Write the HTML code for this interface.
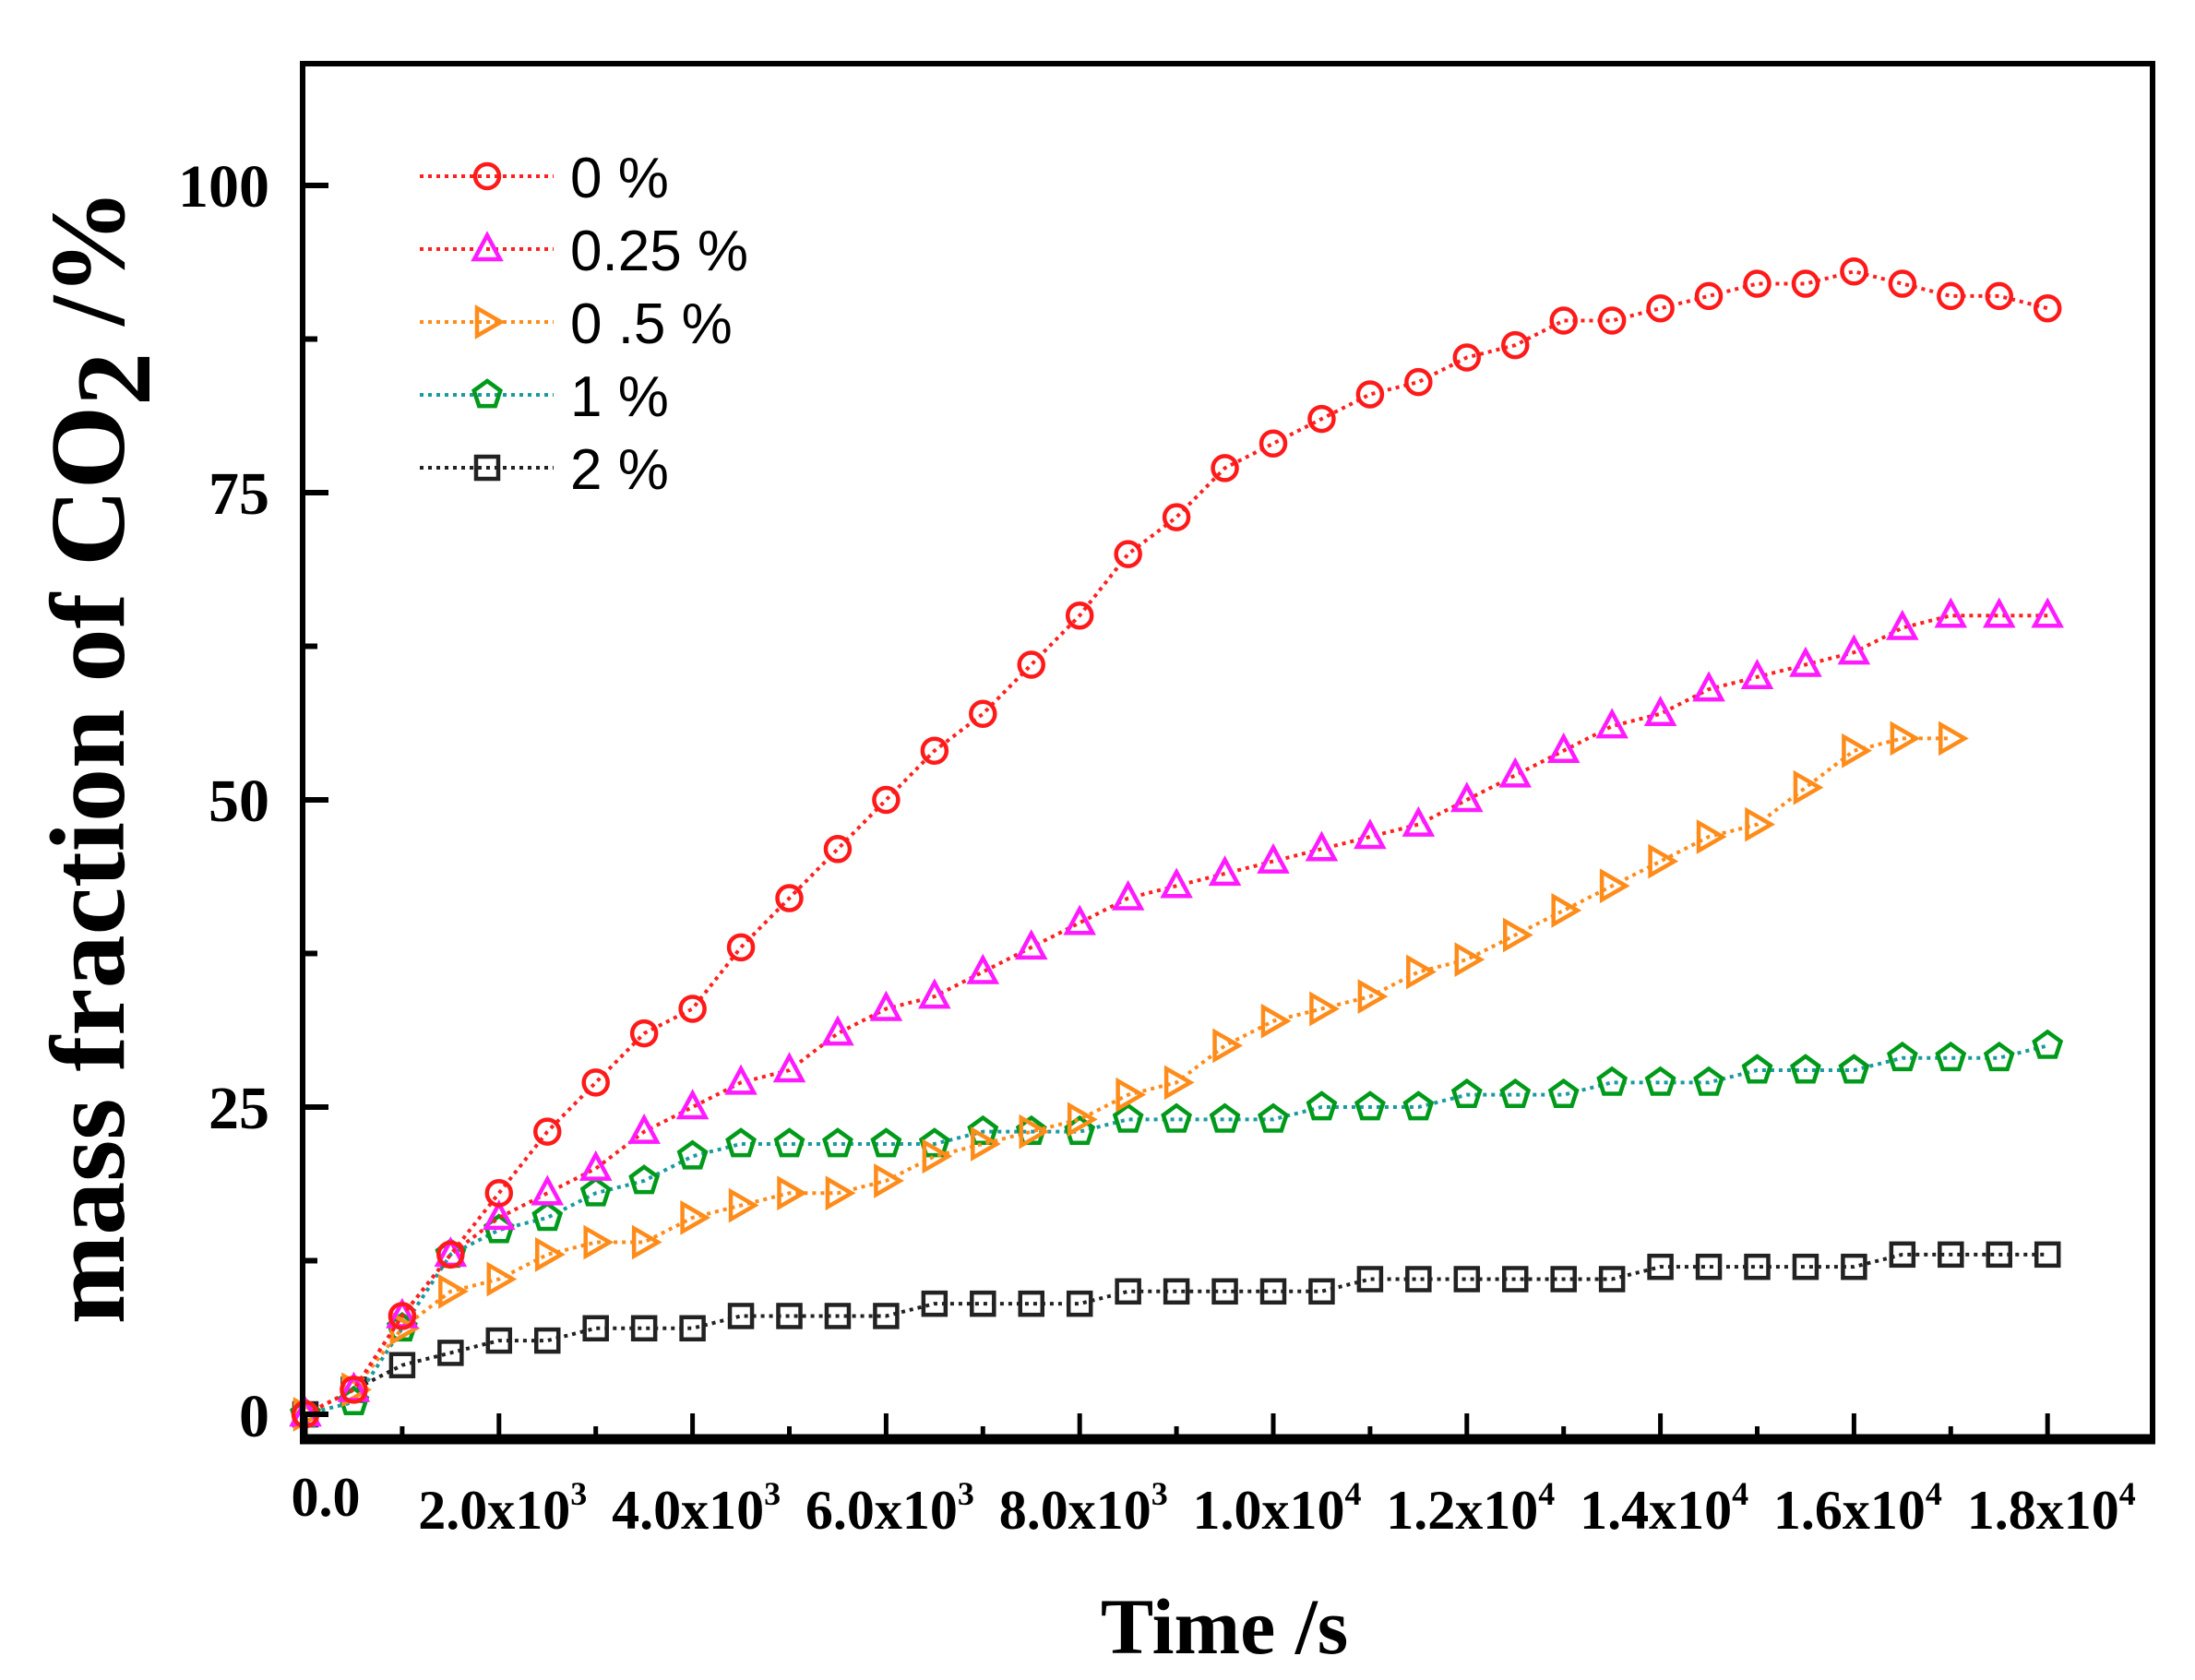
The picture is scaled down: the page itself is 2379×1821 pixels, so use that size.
<!DOCTYPE html>
<html><head><meta charset="utf-8"><style>html,body{margin:0;padding:0;background:#fff}svg{display:block}</style></head>
<body>
<svg id="s" xmlns="http://www.w3.org/2000/svg" width="2379" height="1821" viewBox="0 0 2379 1821">
<rect width="2379" height="1821" fill="#fff"/>
<g id="plot"></g>
<rect x="328" y="69" width="2005" height="1491" fill="none" stroke="#000" stroke-width="6"/>
<line x1="325" y1="1560" x2="2336" y2="1560" stroke="#000" stroke-width="11"/>
<g id="ticks" stroke="#000"></g>
<g font-family="'Liberation Serif',serif" font-weight="bold" font-size="66" text-anchor="end" fill="#000">
<text x="292" y="224">100</text>
<text x="292" y="557">75</text>
<text x="292" y="890">50</text>
<text x="292" y="1223">25</text>
<text x="292" y="1557">0</text>
</g>
<g id="xl" font-family="'Liberation Serif',serif" font-weight="bold" font-size="60" text-anchor="middle" fill="#000"></g>
<text x="1327" y="1792" font-family="'Liberation Serif',serif" font-weight="bold" font-size="86" text-anchor="middle">Time /s</text>
<text transform="translate(134,820) rotate(-90)" font-family="'Liberation Serif',serif" font-weight="bold" font-size="116" text-anchor="middle">mass fraction of CO<tspan dy="28">2</tspan><tspan dy="-28"> /%</tspan></text>
<g id="leg" font-family="'Liberation Sans',sans-serif" font-size="62" fill="#000"></g>
</svg>
<script>
const NS="http://www.w3.org/2000/svg";
const X=t=>331+t*0.1049, Y=v=>1533-v*13.32;
function el(p,tag,a){const e=document.createElementNS(NS,tag);for(const k in a)e.setAttribute(k,a[k]);p.appendChild(e);return e;}
const tk=document.getElementById('ticks');
for(let v=0;v<=100;v+=12.5){const maj=v%25===0;el(tk,'line',{x1:328,y1:Y(v),x2:328+(maj?28:16),y2:Y(v),'stroke-width':6});}
for(let t=0;t<=18000;t+=1000){const maj=t%2000===0;el(tk,'line',{x1:X(t),y1:1560,x2:X(t),y2:1560-(maj?28:14),'stroke-width':5});}
const xl=document.getElementById('xl');
const lab=[["0.0",""],["2.0x10","3"],["4.0x10","3"],["6.0x10","3"],["8.0x10","3"],["1.0x10","4"],["1.2x10","4"],["1.4x10","4"],["1.6x10","4"],["1.8x10","4"]];
lab.forEach((l,i)=>{const t=el(xl,'text',{x:X(i*2000)+(i?4:22),y:i?1657:1643});t.textContent=l[0];if(l[1]){const s=el(t,'tspan',{dy:-26,'font-size':36});s.textContent=l[1];}});
const S=[
{c:"#ff1a1a",l:"#ff2020",m:"o",d:[0,2,8,13,18,23,27,31,33,38,42,46,50,54,57,61,65,70,73,77,79,81,83,84,86,87,89,89,90,91,92,92,93,92,91,91,90],n:"0 %"},
{c:"#ff1aff",l:"#ff2020",m:"t",d:[0,2,8,13,16,18,20,23,25,27,28,31,33,34,36,38,40,42,43,44,45,46,47,48,50,52,54,56,57,59,60,61,62,64,65,65,65],n:"0.25 %"},
{c:"#ff8c1a",l:"#ff8c1a",m:"r",d:[0,2,7,10,11,13,14,14,16,17,18,18,19,21,22,23,24,26,27,30,32,33,34,36,37,39,41,43,45,47,48,51,54,55,55],n:"0 .5 %"},
{c:"#009a1a",l:"#1a9aa0",m:"p",d:[0,1,7,13,15,16,18,19,21,22,22,22,22,22,23,23,23,24,24,24,24,25,25,25,26,26,26,27,27,27,28,28,28,29,29,29,30],n:"1 %"},
{c:"#222",l:"#222",m:"s",d:[0,2,4,5,6,6,7,7,7,8,8,8,8,9,9,9,9,10,10,10,10,10,11,11,11,11,11,11,12,12,12,12,12,13,13,13,13],n:"2 %"}];
function mk(g,m,x,y,c){const a={fill:"none",stroke:c,'stroke-width':4.5};
 if(m=="o")el(g,'circle',Object.assign({cx:x,cy:y,r:13},a));
 else if(m=="s")el(g,'rect',Object.assign({x:x-12,y:y-12,width:24,height:24},a));
 else if(m=="t")el(g,'polygon',Object.assign({points:`${x},${y-15} ${x+14},${y+11} ${x-14},${y+11}`},a));
 else if(m=="r")el(g,'polygon',Object.assign({points:`${x-11},${y-15} ${x+15},${y} ${x-11},${y+15}`},a));
 else {let p=[];for(let k=0;k<5;k++){const an=-Math.PI/2+k*2*Math.PI/5;p.push((x+15*Math.cos(an)).toFixed(1)+","+(y+15*Math.sin(an)).toFixed(1));}el(g,'polygon',Object.assign({points:p.join(" ")},a));}}
const g=document.getElementById('plot');
S.slice().reverse().forEach(s=>{const pts=s.d.map((v,i)=>X(i*500)+","+Y(v)).join(" ");
 el(g,'polyline',{points:pts,fill:"none",stroke:s.l,'stroke-width':4,'stroke-dasharray':"4 5"});
 s.d.forEach((v,i)=>mk(g,s.m,X(i*500),Y(v),s.c));});
const lg=document.getElementById('leg');
S.forEach((s,i)=>{const y=191+i*79;el(lg,'line',{x1:455,y1:y,x2:600,y2:y,stroke:s.l,'stroke-width':4,'stroke-dasharray':"4 5"});
 mk(lg,s.m,528,y,s.c);const t=el(lg,'text',{x:618,y:y+23});t.textContent=s.n;});
</script>
</body></html>
